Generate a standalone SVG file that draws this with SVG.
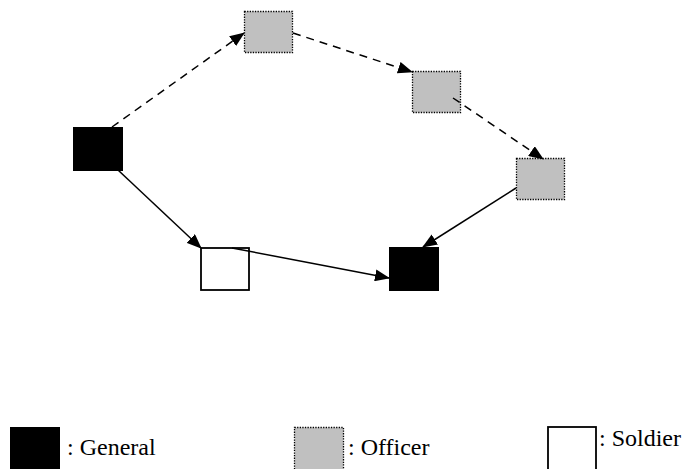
<svg xmlns="http://www.w3.org/2000/svg" width="686" height="469" viewBox="0 0 686 469">
<style>
.gen{fill:#000;stroke:#000;stroke-width:1}
.off{fill:#c0c0c0;stroke:#000;stroke-width:1.3;stroke-dasharray:1.3 1.3}
.sol{fill:#fff;stroke:#000;stroke-width:1.8}
.e{fill:none;stroke:#000;stroke-width:1.5}
.d{stroke-dasharray:8 6}
.t{font-family:"Liberation Serif","Times New Roman",serif;font-size:24px;fill:#000}
</style>
<defs>
<marker id="a" markerWidth="15" markerHeight="12" refX="14" refY="6" orient="auto" markerUnits="userSpaceOnUse">
<path d="M0,0 L15,6 L0,12 Z" fill="#000"/>
</marker>
</defs>
<g id="general1"><rect class="gen" x="73.5" y="127.5" width="49" height="43"/></g>
<g id="officer1"><rect class="off" x="244.5" y="11.5" width="48" height="41"/></g>
<g id="officer2"><rect class="off" x="412.5" y="71.5" width="48" height="41"/></g>
<g id="officer3"><rect class="off" x="516.5" y="158.5" width="48" height="41"/></g>
<g id="soldier"><rect class="sol" x="201" y="248" width="48" height="42"/></g>
<g id="general2"><rect class="gen" x="389.5" y="247.5" width="49" height="43"/></g>
<g id="connectors">
<line class="e d" x1="112" y1="127" x2="244" y2="33" marker-end="url(#a)"/>
<line class="e d" x1="293" y1="33" x2="412" y2="72" marker-end="url(#a)"/>
<line class="e d" x1="453" y1="98" x2="543" y2="159" marker-end="url(#a)"/>
<line class="e" x1="516" y1="188" x2="423" y2="247" marker-end="url(#a)"/>
<line class="e" x1="118" y1="170" x2="201" y2="248" marker-end="url(#a)"/>
<line class="e" x1="232" y1="248" x2="389" y2="278" marker-end="url(#a)"/>
</g>
<g id="legend">
<rect class="gen" x="10.5" y="427.5" width="49" height="46"/>
<text class="t" x="67" y="455">: General</text>
<rect class="off" x="294.5" y="427.5" width="49" height="46"/>
<text class="t" x="348" y="455">: Officer</text>
<rect class="sol" x="548" y="427" width="48" height="46"/>
<text class="t" x="599" y="446">: Soldier</text>
</g>
</svg>
